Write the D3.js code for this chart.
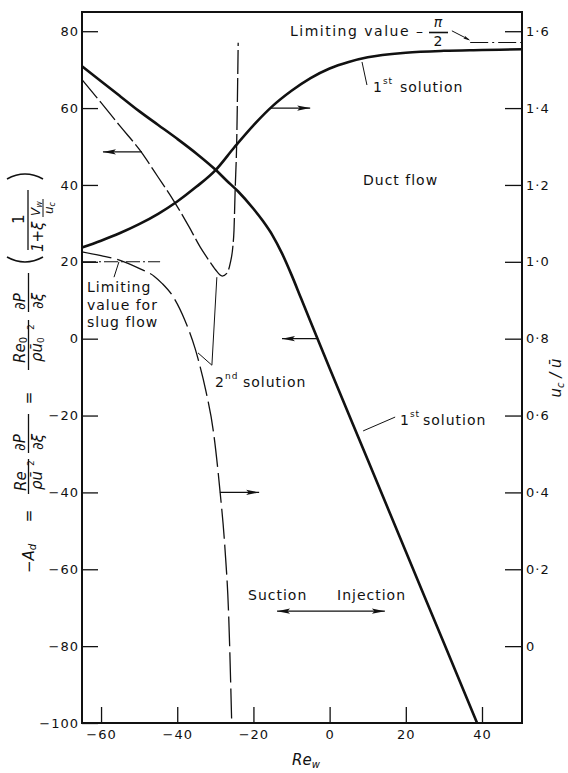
<!DOCTYPE html>
<html>
<head>
<meta charset="utf-8">
<script src="https://cdn.jsdelivr.net/npm/d3@7"></script>
<style>
  body { margin: 0; background: #fff; }
  svg text { font-family: "DejaVu Sans", "Liberation Sans", Arial, sans-serif; fill: #111; }
</style>
</head>
<body>
<svg id="chart" width="568" height="773"></svg>
<script>
// ---- axis ticks ----
const xTicks = [-60, -40, -20, 0, 20, 40];
const leftTicks = [80, 60, 40, 20, 0, -20, -40, -60, -80, -100];
const rightTicks = [1.6, 1.4, 1.2, 1.0, 0.8, 0.6, 0.4, 0.2, 0];
const rightTickLabels = ["1·6", "1·4", "1·2", "1·0", "0·8", "0·6", "0·4", "0·2", "0"];

// ---- 1st solution: pressure-gradient parameter -A_d (left axis) ----
const firstReW = [-65, -60, -55, -50, -45, -40, -35, -30, -27, -24, -20, -17.5, -15, -12.5, -10, -7.5, -5, 0, 10, 20, 30, 38.7];
const firstAd  = [70.9, 67.0, 63.1, 59.2, 55.6, 52.0, 48.2, 44.0, 41.1, 38.3, 33.8, 30.6, 26.9, 22.2, 16.6, 10.5, 4.4, -7.7, -31.5, -55.4, -79.2, -100];

// ---- 1st solution: centre-line velocity u_c/ū (right axis) ----
const firstUcReW = [-65, -60, -55, -50, -45, -40, -35, -30, -25, -20, -15, -10, -5, 0, 5, 10, 20, 30, 40, 50.5];
const firstUc    = [1.037, 1.055, 1.075, 1.098, 1.125, 1.157, 1.195, 1.238, 1.298, 1.355, 1.405, 1.445, 1.478, 1.503, 1.520, 1.532, 1.544, 1.549, 1.551, 1.553];

// ---- 2nd solution: -A_d (left axis) ----
const secondReW = [-65, -60, -55, -50, -45, -41, -37, -34, -31.7, -30, -28.2, -27, -26.1, -25.4, -25.1, -24.8, -24.4, -24.0];
const secondAd  = [67.4, 61.4, 55.3, 49.3, 42.0, 36.0, 29.3, 23.9, 20.4, 18.0, 16.3, 17.0, 19.6, 24.0, 28.2, 38.6, 50.8, 77.0];

// ---- 2nd solution: u_c/ū (right axis) ----
const secondUcReW = [-65, -60, -55, -50, -46, -44, -41, -38, -35.3, -34.5, -32.5, -30.5, -28.8, -27.5, -26.5, -25.7];
const secondUc    = [1.026, 1.016, 1.004, 0.983, 0.962, 0.944, 0.908, 0.848, 0.774, 0.746, 0.665, 0.558, 0.406, 0.258, 0.08, -0.2];

// ---- limiting values ----
const slugReW = [-65, -44.5];
const slugUc = 1.0;            // slug flow
const limitReW = [36.9, 50.5];
const limitUc = Math.PI / 2;   // large-Re_w limit of the 1st solution

// ---- layout ----
const W = 568, H = 773;
const M = { top: 12, right: 46, bottom: 50, left: 82 };
const svg = d3.select("#chart");

const x  = d3.scaleLinear().domain([-65, 50.5]).range([M.left, W - M.right]);
const yL = d3.scaleLinear().domain([-100, 85]).range([H - M.bottom, M.top]);
const yR = d3.scaleLinear().domain([-0.2, 1.65]).range([H - M.bottom, M.top]);

const ink = "#111";

function styleAxis(g) {
  g.select(".domain").remove();
  g.attr("font-family", null).attr("font-size", null);
  g.selectAll(".tick line").attr("stroke", ink).attr("stroke-width", 1.3);
  g.selectAll(".tick text").attr("font-size", 13).attr("letter-spacing", 1).attr("fill", ink);
}

svg.append("g")
  .attr("transform", `translate(${M.left},0)`)
  .call(d3.axisLeft(yL).tickValues(leftTicks).tickSize(-16).tickPadding(3).tickFormat(d3.format("d")))
  .call(styleAxis);

svg.append("g")
  .attr("transform", `translate(${W - M.right},0)`)
  .call(d3.axisRight(yR).tickValues(rightTicks).tickSize(-17).tickPadding(4)
        .tickFormat((d, i) => rightTickLabels[i]))
  .call(styleAxis);

svg.append("g")
  .attr("transform", `translate(0,${H - M.bottom})`)
  .call(d3.axisBottom(x).tickValues(xTicks).tickSize(-16).tickPadding(7).tickFormat(d3.format("d")))
  .call(styleAxis);

// plot frame
svg.append("rect")
  .attr("x", M.left).attr("y", M.top)
  .attr("width", W - M.left - M.right).attr("height", H - M.top - M.bottom)
  .attr("fill", "none").attr("stroke", ink).attr("stroke-width", 2);

// ---- curves ----
const lineL = d3.line().x(d => x(d[0])).y(d => yL(d[1])).curve(d3.curveMonotoneX);
const lineR = d3.line().x(d => x(d[0])).y(d => yR(d[1])).curve(d3.curveMonotoneX);

const curves = svg.append("g").attr("fill", "none").attr("stroke", ink);

curves.append("path").attr("d", lineL(d3.zip(firstReW, firstAd)))
  .attr("stroke-width", 2.6).attr("stroke-linejoin", "round");
curves.append("path").attr("d", lineR(d3.zip(firstUcReW, firstUc)))
  .attr("stroke-width", 2.6).attr("stroke-linejoin", "round");
curves.append("path").attr("d", lineL(d3.zip(secondReW, secondAd)))
  .attr("stroke-width", 1.3).attr("stroke-dasharray", "24,4");
curves.append("path").attr("d", lineR(d3.zip(secondUcReW, secondUc)))
  .attr("stroke-width", 1.3).attr("stroke-dasharray", "30,6");

// limiting values (chain lines)
curves.append("path").attr("d", lineR(slugReW.map(r => [r, slugUc])))
  .attr("stroke-width", 1.1).attr("stroke-dasharray", "14,3,2,3");
curves.append("path").attr("d", lineR(limitReW.map(r => [r, limitUc])))
  .attr("stroke-width", 1.1).attr("stroke-dasharray", "18,4,2,4");

// ---- arrows and leader lines (data coordinates: Re_w, left-axis value) ----
const ann = svg.append("g");
function P(r, v) { return [x(r), yL(v)]; }

function arrowHead(tip, from, len = 13, half = 2.6) {
  const dx = tip[0] - from[0], dy = tip[1] - from[1];
  const d = Math.hypot(dx, dy), ux = dx / d, uy = dy / d;
  const px = -uy, py = ux;
  const bx = tip[0] - ux * len, by = tip[1] - uy * len;
  const nx = tip[0] - ux * len * 0.8, ny = tip[1] - uy * len * 0.8;
  ann.append("path")
    .attr("d", `M${tip}L${bx + px * half},${by + py * half}L${nx},${ny}L${bx - px * half},${by - py * half}Z`)
    .attr("fill", ink);
}
function seg(a, b, w = 1) {
  ann.append("line").attr("x1", a[0]).attr("y1", a[1]).attr("x2", b[0]).attr("y2", b[1])
    .attr("stroke", ink).attr("stroke-width", w);
}
function arrow(tail, tip, both = false) {
  seg(tail, tip, 1.2);
  arrowHead(tip, tail);
  if (both) arrowHead(tail, tip);
}

arrow(P(-49.25, 48.6), P(-59.5, 48.6));     // 2nd solution -> left axis
arrow(P(-15.65, 60.0), P(-5.1, 60.0));      // 1st solution -> right axis
arrow(P(-3.05, 0), P(-12.5, 0));            // 1st solution -> left axis
arrow(P(-28.8, -40), P(-18.5, -40));        // 2nd solution -> right axis
arrow(P(-13.8, -70.9), P(14.5, -70.9), true); // suction / injection

// leaders
seg(P(32.1, 80.1), P(36.6, 77.8));
arrowHead(P(36.9, 77.6), P(32.1, 80.1), 7, 1.6);
seg(P(8.5, 72.0), P(9.8, 66.0));
seg(P(-55.3, 20.0), P(-56.6, 16.0));
seg(P(-29.6, 16.0), P(-30.9, -6.9));
seg(P(-30.9, -6.9), P(-34.55, -3.7));
seg(P(8.8, -24.0), P(17.2, -20.4));

// ---- annotation text ----
const txt = svg.append("g").attr("font-size", 14).attr("letter-spacing", 1);

txt.append("text").attr("x", 290).attr("y", 36).attr("letter-spacing", 1.5).text("Limiting value");
txt.append("text").attr("x", 416).attr("y", 36).text("–");
txt.append("text").attr("x", 438).attr("y", 27).attr("text-anchor", "middle").attr("letter-spacing", 0)
  .attr("font-style", "italic").text("π");
ann.append("line").attr("x1", 429).attr("x2", 448).attr("y1", 32.5).attr("y2", 32.5)
  .attr("stroke", ink).attr("stroke-width", 1.6);
txt.append("text").attr("x", 438).attr("y", 46).attr("text-anchor", "middle").attr("letter-spacing", 0).text("2");

function ordinal(xp, yp, num, suf, xs) {
  const t = txt.append("text").attr("x", xp).attr("y", yp);
  t.append("tspan").text(num);
  t.append("tspan").attr("dy", -8).attr("font-size", 9).text(suf);
  t.append("tspan").attr("x", xs).attr("y", yp).text("solution");
}
ordinal(373, 92, "1", "st", 400);
ordinal(400, 425, "1", "st", 423);
ordinal(215, 387, "2", "nd", 243);

txt.append("text").attr("x", 363).attr("y", 185).text("Duct flow");
txt.append("text").attr("x", 87).attr("y", 292).text("Limiting");
txt.append("text").attr("x", 87).attr("y", 310).text("value for");
txt.append("text").attr("x", 87).attr("y", 327).text("slug flow");
txt.append("text").attr("x", 248).attr("y", 600).text("Suction");
txt.append("text").attr("x", 337).attr("y", 600).text("Injection");

// x-axis title
const xt = svg.append("text").attr("x", 292).attr("y", 765).attr("font-size", 15).attr("font-style", "italic");
xt.append("tspan").text("Re");
xt.append("tspan").attr("dy", 3).attr("font-size", 10).text("w");

// ---- left axis title (rotated, reads bottom to top) ----
const lt = svg.append("g").attr("transform", "translate(30,600) rotate(-90)");
function T(u, v, s, opts = {}) {
  const t = lt.append("text").attr("x", u).attr("y", v)
    .attr("font-size", opts.size || 15)
    .attr("font-style", opts.italic ? "italic" : null)
    .attr("text-anchor", opts.anchor || "start");
  t.text(s);
  return t;
}
function bar(u1, u2, v, w = 1.3) {
  lt.append("line").attr("x1", u1).attr("x2", u2).attr("y1", v).attr("y2", v)
    .attr("stroke", ink).attr("stroke-width", w);
}

// -A_d
T(27, 4, "−A", { italic: true }).append("tspan").attr("dy", 2).attr("font-size", 10).text("d");
T(84, 4, "=", { anchor: "middle" });
// Re / (ρ ū²)
T(109, -4, "Re", { italic: true });
bar(106, 141, -1.5);
T(110, 12, "ρū", { italic: true });
T(134, 4, "2", { size: 9 });
// ∂P/∂ξ
T(149, -5, "∂P", { italic: true });
bar(147, 186, -1.5);
T(150, 13, "∂ξ", { italic: true });
T(202, 4, "=", { anchor: "middle" });
// Re_0 / (ρ ū_0²)
const r0 = T(237, -5, "Re", { italic: true });
r0.append("tspan").attr("dy", 2).attr("font-size", 10).attr("font-style", "normal").text("0");
bar(230, 280, -1.5);
const d0 = T(238, 12, "ρū", { italic: true });
d0.append("tspan").attr("dy", 2).attr("font-size", 9).attr("font-style", "normal").text("0");
T(270, 4, "2", { size: 9 });
// ∂P/∂ξ
T(290, -5, "∂P", { italic: true });
bar(288, 327, -1.5);
T(291, 13, "∂ξ", { italic: true });
// ( 1 / (1 + ξ V_w/u_c) )
lt.append("path").attr("d", "M343,-23 Q333,-5 343,13").attr("fill", "none").attr("stroke", ink).attr("stroke-width", 1.6);
lt.append("path").attr("d", "M421,-23 Q431,-5 421,13").attr("fill", "none").attr("stroke", ink).attr("stroke-width", 1.6);
T(376, -6, "1");
bar(350, 410, -2);
T(348, 13, "1+ξ", { italic: true });
const vw = T(384, 10, "V", { italic: true, size: 12 });
vw.append("tspan").attr("dy", 2).attr("font-size", 8).text("w");
bar(383, 401, 13, 1);
const uc = T(386, 23, "u", { italic: true, size: 12 });
uc.append("tspan").attr("dy", 2).attr("font-size", 8).text("c");

// ---- right axis title ----
const rt = svg.append("text").attr("transform", "translate(561,378) rotate(-90)")
  .attr("text-anchor", "middle").attr("font-size", 15).attr("font-style", "italic");
rt.append("tspan").text("u");
rt.append("tspan").attr("dy", 3).attr("font-size", 10).text("c");
rt.append("tspan").attr("dy", -3).text(" / ū");
</script>
</body>
</html>
